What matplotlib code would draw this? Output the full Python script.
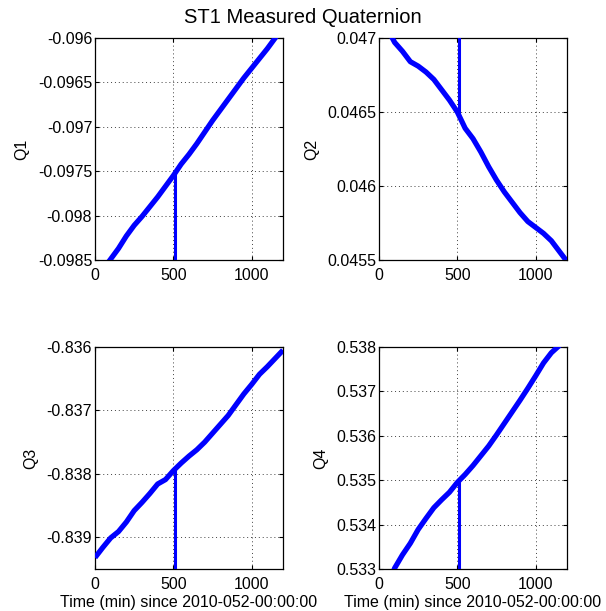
import numpy as np
import matplotlib
matplotlib.use("Agg")
import matplotlib.pyplot as plt
from matplotlib.ticker import FormatStrFormatter, FixedLocator

# time (min) since 2010-052-00:00:00
time_min = [0, 50, 100, 150, 200, 250, 300, 350, 400, 450, 500, 550, 600,
            650, 700, 750, 800, 850, 900, 950, 1000, 1050, 1100, 1150, 1200]

q1 = [-0.09873, -0.09861, -0.09849, -0.09837, -0.09823, -0.09811, -0.09801,
      -0.09790, -0.09779, -0.09767, -0.09755, -0.09742, -0.09731, -0.09719,
      -0.09706, -0.09693, -0.09681, -0.09669, -0.09657, -0.09645, -0.09634,
      -0.09623, -0.09612, -0.09600, -0.09588]
q2 = [0.04718, 0.04707, 0.04697, 0.04691, 0.04684, 0.04681, 0.04677, 0.04672,
      0.04665, 0.04658, 0.04650, 0.04639, 0.04632, 0.04623, 0.04613, 0.04604,
      0.04596, 0.04589, 0.04582, 0.04576, 0.04572, 0.04568, 0.04563, 0.04556,
      0.04549]
q3 = [-0.83932, -0.83916, -0.83901, -0.83891, -0.83876, -0.83858, -0.83845,
      -0.83831, -0.83816, -0.83809, -0.83795, -0.83783, -0.83772, -0.83762,
      -0.83750, -0.83736, -0.83722, -0.83708, -0.83691, -0.83674, -0.83659,
      -0.83643, -0.83631, -0.83618, -0.83605]
q4 = [0.53215, 0.53256, 0.53302, 0.53332, 0.53358, 0.53389, 0.53414, 0.53438,
      0.53456, 0.53473, 0.53495, 0.53513, 0.53533, 0.53555, 0.53577, 0.53602,
      0.53628, 0.53654, 0.53680, 0.53707, 0.53735, 0.53764, 0.53787, 0.53803,
      0.53826]

# single-sample glitch
glitch_time = 512
glitch_values = [-0.1, 0.048, -0.841, 0.53]

series = [q1, q2, q3, q4]
labels = ["Q1", "Q2", "Q3", "Q4"]
ylims = [(-0.0985, -0.096), (0.0455, 0.047), (-0.8395, -0.836), (0.533, 0.538)]
yticks = [[-0.0985, -0.098, -0.0975, -0.097, -0.0965, -0.096],
          [0.0455, 0.046, 0.0465, 0.047],
          [-0.839, -0.838, -0.837, -0.836],
          [0.533, 0.534, 0.535, 0.536, 0.537, 0.538]]
xticks = [0, 500, 1000]

plt.rcParams['font.family'] = ['Liberation Sans', 'DejaVu Sans']
fs = 11.5

fig = plt.figure(figsize=(6.06, 6.11), dpi=100)
W, H = 606.0, 611.0
positions = [(95, 38), (379, 38), (95, 347), (379, 347)]
aw, ah = 188, 222

for i in range(4):
    lx, ty = positions[i]
    ax = fig.add_axes([lx / W, 1 - (ty + ah) / H, aw / W, ah / H])
    t = np.array(time_min, dtype=float)
    v = np.array(series[i], dtype=float)
    ax.plot(t, v, color=(0, 0, 1), lw=3.8, solid_capstyle='butt', zorder=3)
    base = np.interp(glitch_time, t, v)
    ax.plot([glitch_time, glitch_time], [base, glitch_values[i]],
            color=(0, 0, 1), lw=2.2, zorder=3)
    ax.set_xlim(0, 1200)
    ax.set_ylim(*ylims[i])
    ax.xaxis.set_major_locator(FixedLocator(xticks))
    ax.yaxis.set_major_locator(FixedLocator(yticks[i]))
    ax.yaxis.set_major_formatter(FormatStrFormatter('%g'))
    ax.grid(True, linestyle=(0, (1, 3)), color='#404040', linewidth=0.7)
    ax.tick_params(direction='in', top=True, right=True, length=3,
                   width=0.8, labelsize=fs)
    ax.tick_params(axis='y', pad=2)
    ax.tick_params(axis='x', pad=6)
    for sp in ax.spines.values():
        sp.set_linewidth(0.9)
    ax.set_ylabel(labels[i], fontsize=fs, labelpad=6)
    if i >= 2:
        ax.set_xlabel("Time (min) since 2010-052-00:00:00", fontsize=fs,
                      labelpad=2)

fig.suptitle("ST1 Measured Quaternion", fontsize=14.5, y=0.987, va='top')
fig.savefig("out.png", dpi=100)
